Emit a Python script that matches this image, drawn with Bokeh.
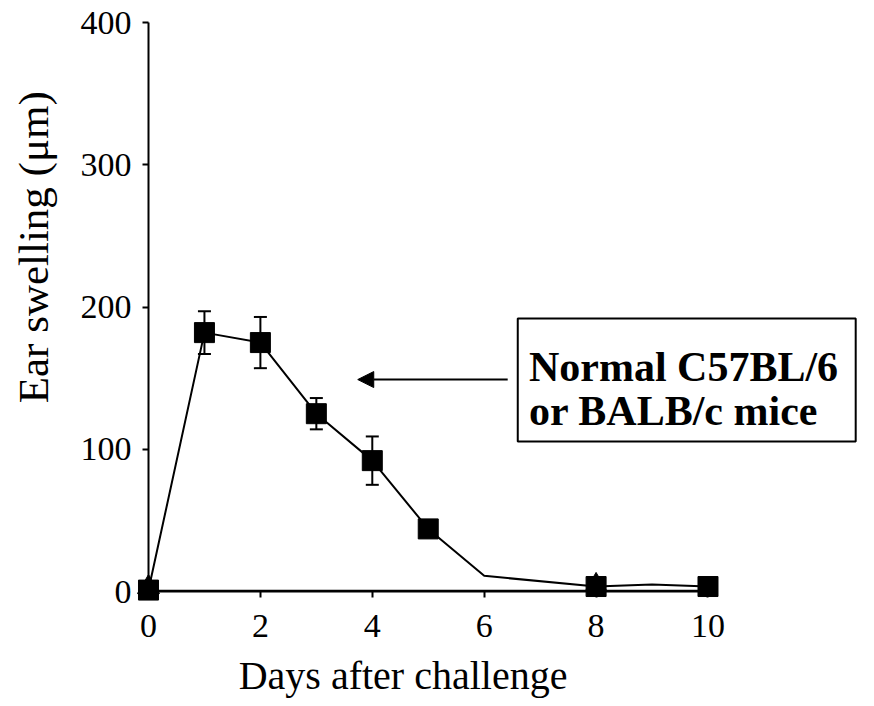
from bokeh.plotting import figure
from bokeh.models import (ColumnDataSource, Whisker, Arrow, NormalHead, Label,
                          Range1d, FixedTicker)
from bokeh.embed import file_html
from bokeh.resources import INLINE

# ---- data ----
days = [0, 1, 2, 3, 4, 5, 6, 8, 9, 10]
normal_swelling = [1, 182, 175, 125, 92, 44, 11, 3.5, 5, 3.5]

marker_days = [0, 1, 2, 3, 4, 5, 8, 10]
marker_swelling = [1, 182, 175, 125, 92, 44, 3.5, 3.5]

err_days = [1, 2, 3, 4, 5]
err_mean = [182, 175, 125, 92, 44]
err_sd = [15, 18, 11, 17, 3]

other_days = [0, 1, 2, 3, 4, 5, 6, 8, 10]
other_swelling = [0.5, 0.5, 0.5, 0.5, 0.5, 0.5, 0.5, 0.5, 0.5]
other_marker_days = [0, 8]
other_marker_swelling = [3, 4.5]

x_ticks = [0, 2, 4, 6, 8, 10]
y_ticks = [0, 100, 200, 300, 400]

FONT = "Liberation Serif"

# frame covers the whole canvas; axes are fixed at data zero
p = figure(width=874, height=706, output_backend="svg", toolbar_location=None,
           x_range=Range1d(-2.645, 12.976), y_range=Range1d(-80.84, 415.47),
           min_border=0)
p.grid.visible = False
p.outline_line_color = None
p.background_fill_color = "white"
p.border_fill_color = "white"

for ax in (p.xaxis[0], p.yaxis[0]):
    ax.fixed_location = 0
    ax.axis_line_color = "black"
    ax.axis_line_width = 2
    ax.major_tick_line_color = "black"
    ax.major_tick_line_width = 2
    ax.major_tick_in = 0
    ax.major_tick_out = 6
    ax.minor_tick_line_color = None
    ax.major_label_text_font = FONT
    ax.major_label_text_font_size = "34px"
    ax.major_label_text_color = "black"

p.xaxis.bounds = (0, 10)
p.yaxis.bounds = (0, 400)
p.xaxis.ticker = FixedTicker(ticks=x_ticks)
p.yaxis.ticker = FixedTicker(ticks=y_ticks)
p.xaxis.major_label_standoff = 17
p.yaxis.major_label_standoff = 11

# series lines
p.line(other_days, other_swelling, line_color="black", line_width=2)
p.line(days, normal_swelling, line_color="black", line_width=2)

# error bars
src = ColumnDataSource(dict(x=err_days,
                            up=[m + s for m, s in zip(err_mean, err_sd)],
                            lo=[m - s for m, s in zip(err_mean, err_sd)]))
w = Whisker(base="x", upper="up", lower="lo", source=src,
            line_color="black", line_width=2)
w.upper_head.size = 13
w.lower_head.size = 13
w.upper_head.line_width = 2
w.lower_head.line_width = 2
p.add_layout(w)

p.scatter(marker_days, marker_swelling, marker="square", size=20,
          fill_color="black", line_color="black")
p.scatter(other_marker_days, other_marker_swelling, marker="triangle",
          size=22, fill_color="black", line_color="black")

# annotation box with arrow
p.quad(left=[6.6], right=[12.64], top=[192], bottom=[105.4],
       fill_color=None, line_color="black", line_width=2)
p.add_layout(Arrow(end=NormalHead(size=16, fill_color="black", line_color="black"),
                   x_start=6.42, y_start=149, x_end=3.74, y_end=149,
                   line_color="black", line_width=2))
for txt, yy in (("Normal C57BL/6", 158), ("or BALB/c mice", 127)):
    p.add_layout(Label(x=6.8, y=yy, text=txt, text_font=FONT,
                       text_font_size="42px", text_font_style="bold",
                       text_color="black", text_baseline="alphabetic",
                       text_align="left"))

# axis titles
p.add_layout(Label(x=4.55, y=-59, text="Days after challenge", text_font=FONT,
                   text_font_size="40px", text_color="black",
                   text_align="center", text_baseline="alphabetic"))
p.add_layout(Label(x=-2.05, y=242, text="Ear swelling (μm)", text_font=FONT,
                   text_font_size="43px", text_color="black", angle=1.5708,
                   text_align="center", text_baseline="middle"))

open("out.html", "w").write(file_html(p, INLINE))
